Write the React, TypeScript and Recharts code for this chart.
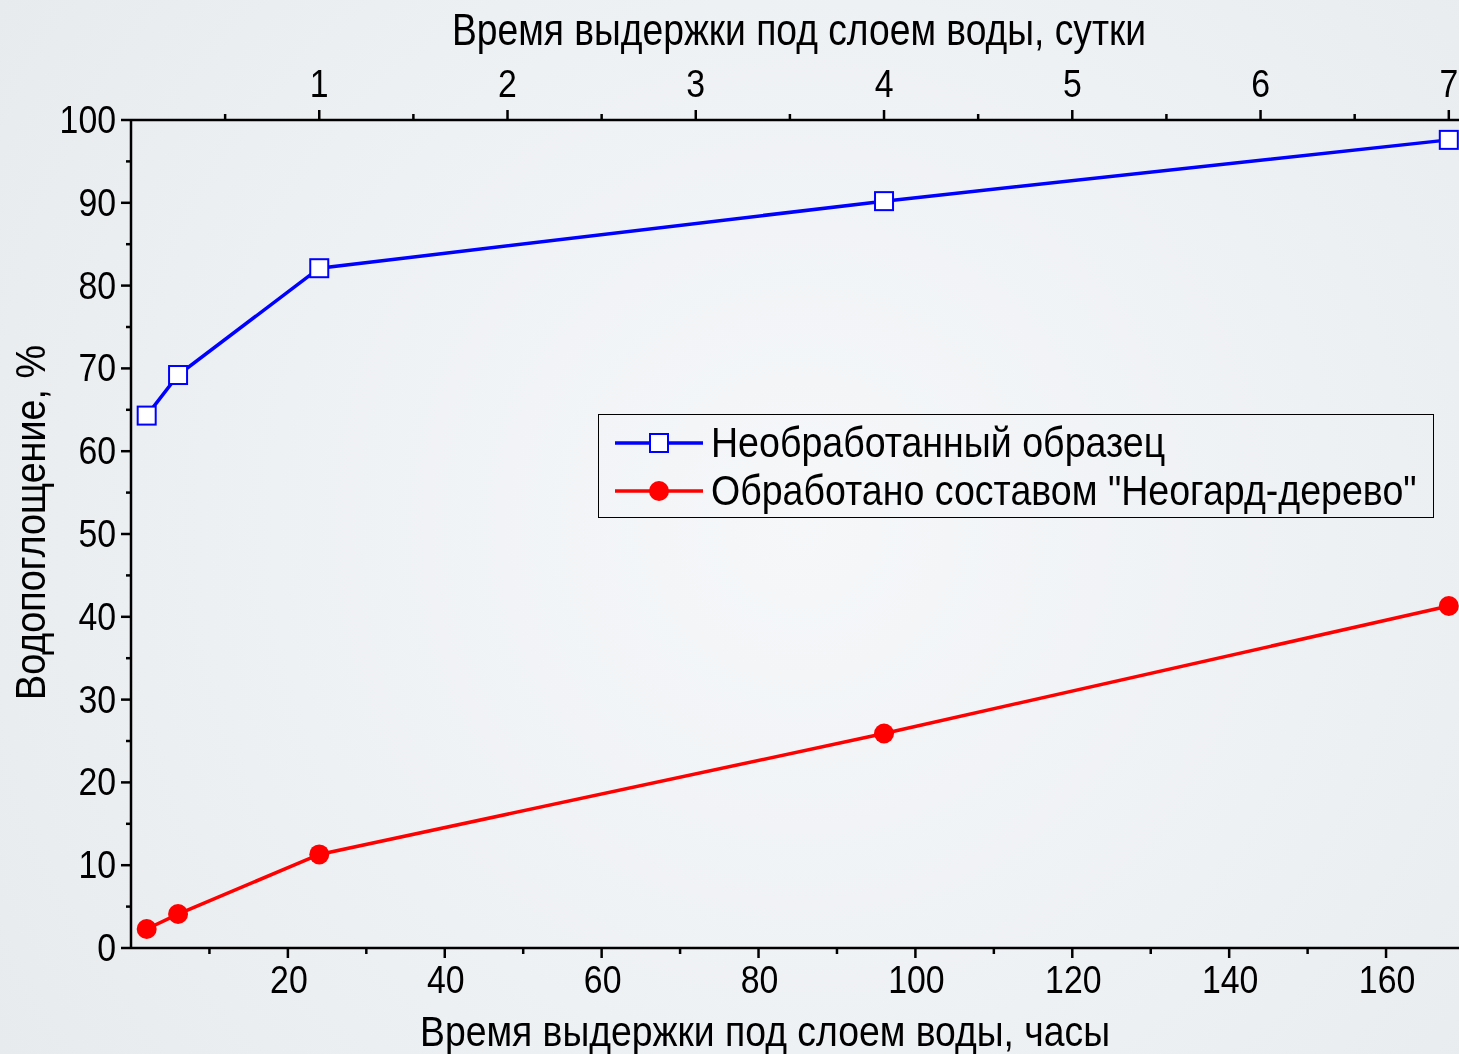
import React from "react";
import { LineChart, Line, XAxis, YAxis, Legend } from "recharts";

// время выдержки, часы
const hours = [2, 6, 24, 96, 168];
// водопоглощение, %
const untreated = [64.3, 69.2, 82.1, 90.2, 97.6];
const treated = [2.3, 4.1, 11.3, 25.9, 41.3];

const hourTicks = [10, 20, 30, 40, 50, 60, 70, 80, 90, 100, 110, 120, 130, 140, 150, 160];
const dayTicks = [12, 24, 36, 48, 60, 72, 84, 96, 108, 120, 132, 144, 156, 168];
const yTicks = [0, 5, 10, 15, 20, 25, 30, 35, 40, 45, 50, 55, 60, 65, 70, 75, 80, 85, 90, 95, 100];

const seriesNames = ["Необработанный образец", 'Обработано составом "Неогард-дерево"'];

const data = hours.map((h, i) => ({ h, a: untreated[i], b: treated[i] }));

const FONT = "'Liberation Sans', Arial, sans-serif";
const TICK_FS = 38;
const SQUEEZE = 0.89;

const Label = ({ x, y, anchor, children }: any) => (
  <text
    transform={`translate(${x},${y}) scale(${SQUEEZE},1)`}
    textAnchor={anchor}
    fontSize={TICK_FS}
    fontFamily={FONT}
    fill="#000"
  >
    {children}
  </text>
);

const BottomTick = (props: any) => {
  const { x, y, payload } = props;
  const major = payload.value % 20 === 0;
  return (
    <g>
      <line x1={x} x2={x} y1={y} y2={y + (major ? 10 : 6)} stroke="#000" strokeWidth={2.5} />
      {major && <Label x={x + 1} y={y + 45} anchor="middle">{payload.value}</Label>}
    </g>
  );
};

const TopTick = (props: any) => {
  const { x, y, payload } = props;
  const major = payload.value % 24 === 0;
  return (
    <g>
      <line x1={x} x2={x} y1={y} y2={y - (major ? 10 : 6)} stroke="#000" strokeWidth={2.5} />
      {major && <Label x={x} y={y - 23} anchor="middle">{payload.value / 24}</Label>}
    </g>
  );
};

const LeftTick = (props: any) => {
  const { x, y, payload } = props;
  const major = payload.value % 10 === 0;
  return (
    <g>
      <line x1={x} x2={x - (major ? 10 : 5)} y1={y} y2={y} stroke="#000" strokeWidth={2.5} />
      {major && <Label x={x - 15} y={y + 13} anchor="end">{payload.value}</Label>}
    </g>
  );
};

const SquareDot = (props: any) => {
  const { cx, cy, index } = props;
  return <rect key={`sq-${index}`} x={cx - 9} y={cy - 9} width={18} height={18} fill="#fff" stroke="#0000ff" strokeWidth={2} />;
};

const CircleDot = (props: any) => {
  const { cx, cy, index } = props;
  return <circle key={`ci-${index}`} cx={cx} cy={cy} r={10} fill="#ff0000" stroke="none" />;
};

const LegendBox = () => (
  <div
    style={{
      border: "1.5px solid #000",
      width: 836,
      height: 104,
      boxSizing: "border-box",
      padding: "4px 0 0 16px",
      fontFamily: FONT,
      fontSize: 42,
      color: "#000",
      lineHeight: "48px",
    }}
  >
    {seriesNames.map((name, i) => (
      <div key={name} style={{ display: "flex", alignItems: "center", height: 48, whiteSpace: "nowrap" }}>
        <svg width={88} height={30} style={{ marginRight: 8, flex: "none" }}>
          <line x1={0} x2={88} y1={15} y2={15} stroke={i === 0 ? "#0000ff" : "#ff0000"} strokeWidth={3.5} />
          {i === 0 ? (
            <rect x={35} y={6} width={18} height={18} fill="#fff" stroke="#0000ff" strokeWidth={2} />
          ) : (
            <circle cx={44} cy={15} r={10} fill="#ff0000" />
          )}
        </svg>
        <span style={{ display: "inline-block", transform: "scaleX(0.894)", transformOrigin: "left center" }}>
          {name}
        </span>
      </div>
    ))}
  </div>
);

export default function App() {
  return (
    <div
      style={{
        position: "fixed",
        left: 0,
        top: 0,
        width: 1459,
        height: 1054,
        overflow: "hidden",
        background: "radial-gradient(circle at 55% 50%, #f5f7f9 0%, #eef1f4 55%, #e7ebee 100%)",
      }}
    >
      <LineChart width={1459} height={1054} data={data} margin={{ top: 0, right: 0, bottom: 0, left: 0 }}>
        <XAxis
          xAxisId="bottom"
          dataKey="h"
          type="number"
          domain={[0, 169.3]}
          ticks={hourTicks}
          orientation="bottom"
          height={106}
          stroke="#000"
          strokeWidth={2.5}
          tickLine={false}
          tickSize={0}
          tickMargin={0}
          tick={<BottomTick />}
          interval={0}
          allowDataOverflow
        />
        <XAxis
          xAxisId="top"
          dataKey="h"
          type="number"
          domain={[0, 169.3]}
          ticks={dayTicks}
          orientation="top"
          height={120}
          stroke="#000"
          strokeWidth={2.5}
          tickLine={false}
          tickSize={0}
          tickMargin={0}
          tick={<TopTick />}
          interval={0}
          allowDataOverflow
        />
        <YAxis
          type="number"
          domain={[0, 100]}
          ticks={yTicks}
          width={131}
          stroke="#000"
          strokeWidth={2.5}
          tickLine={false}
          tickSize={0}
          tickMargin={0}
          tick={<LeftTick />}
          interval={0}
        />
        <Legend
          layout="vertical"
          align="center"
          verticalAlign="middle"
          content={<LegendBox />}
          wrapperStyle={{ position: "absolute", left: 598, top: 414, width: 836 }}
        />
        <Line xAxisId="top" dataKey="a" stroke="none" dot={false} legendType="none" isAnimationActive={false} />
        <Line
          xAxisId="bottom"
          dataKey="a"
          name={seriesNames[0]}
          stroke="#0000ff"
          strokeWidth={3.5}
          dot={<SquareDot />}
          activeDot={false}
          isAnimationActive={false}
        />
        <Line
          xAxisId="bottom"
          dataKey="b"
          name={seriesNames[1]}
          stroke="#ff0000"
          strokeWidth={3.5}
          dot={<CircleDot />}
          activeDot={false}
          isAnimationActive={false}
        />
      </LineChart>
      <svg width={1459} height={1054} style={{ position: "absolute", left: 0, top: 0, pointerEvents: "none" }}>
        <text
          x={452}
          y={45}
          textLength={694}
          lengthAdjust="spacingAndGlyphs"
          fontSize={44}
          fontFamily={FONT}
          fill="#000"
        >
          Время выдержки под слоем воды, сутки
        </text>
        <text
          x={420}
          y={1046}
          textLength={690}
          lengthAdjust="spacingAndGlyphs"
          fontSize={42}
          fontFamily={FONT}
          fill="#000"
        >
          Время выдержки под слоем воды, часы
        </text>
        <text
          x={0}
          y={0}
          transform="translate(45 700) rotate(-90)"
          textLength={355}
          lengthAdjust="spacingAndGlyphs"
          fontSize={43}
          fontFamily={FONT}
          fill="#000"
        >
          Водопоглощение, %
        </text>
      </svg>
    </div>
  );
}
